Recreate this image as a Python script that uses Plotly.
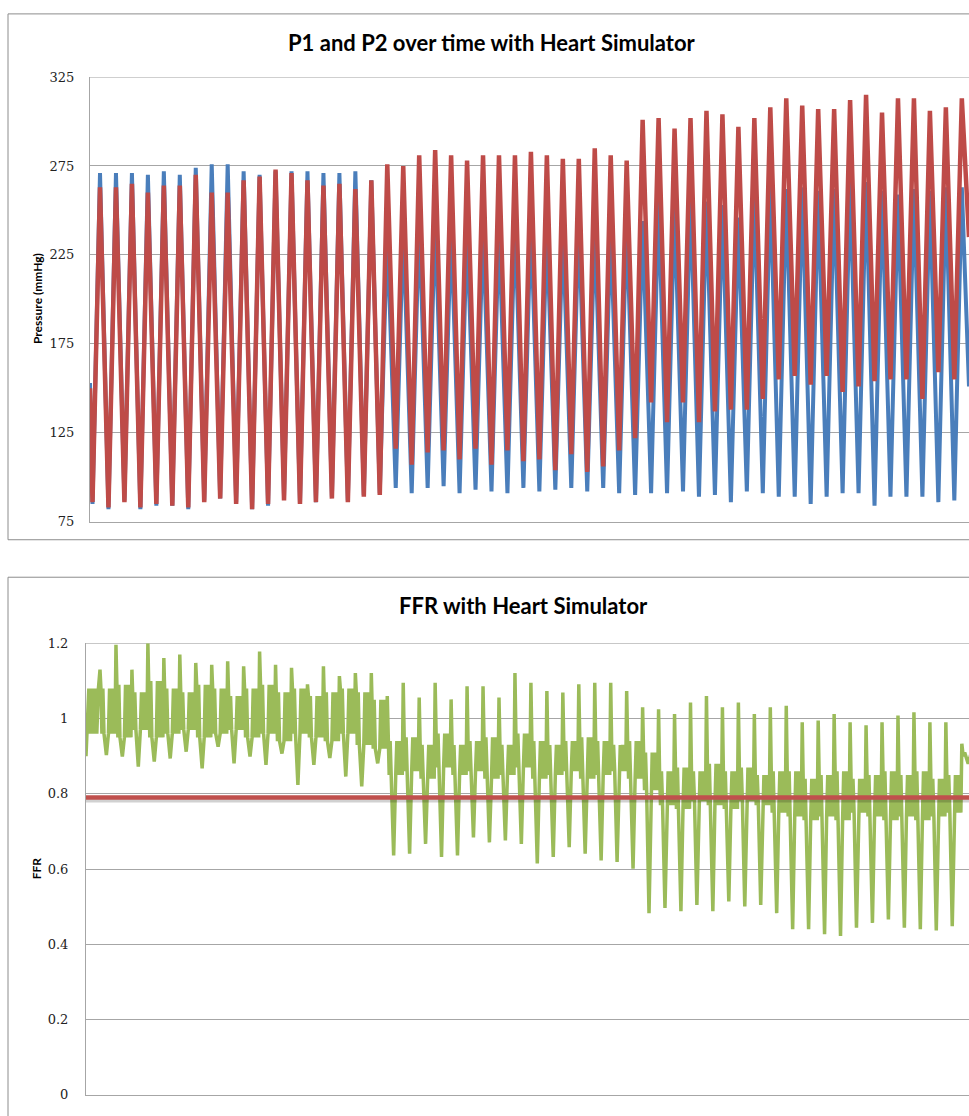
import plotly.graph_objects as go

# ---------------- data ----------------
# Pressure (mmHg): one entry per heartbeat (55 beats)
p1_peak = [271, 271, 271, 270, 272, 270, 274, 276, 276, 272, 270, 272, 272, 272,
           271, 271, 272, 267,
           239, 241, 245, 246, 241, 241, 241, 241, 245, 245, 241, 240, 245, 241, 240, 245,
           244, 255, 253, 259, 255, 253, 246, 261, 265, 262, 263, 261, 262, 266, 266, 261,
           259, 262, 261, 263, 263]
p2_peak = [263, 263, 265, 260, 264, 264, 270, 260, 260, 267, 269, 273, 271, 267,
           264, 265, 262, 267,
           276, 275, 281, 284, 281, 278, 281, 281, 281, 283, 281, 279, 279, 285, 281, 278,
           301, 302, 296, 302, 306, 304, 297, 302, 308, 313, 309, 307, 307, 312, 315, 305,
           313, 313, 306, 308, 313]
# trough just before each beat's peak
p1_trough = [85, 82, 87, 82, 84, 84, 82, 87, 88, 86, 82, 84, 89, 85, 86,
             89, 87, 90, 91,
             94, 91, 94, 95, 91, 93, 92, 91, 94, 92, 93, 94, 92, 94, 91, 90,
             91, 91, 92, 89, 90, 86, 92, 91, 89, 89, 85, 89, 91, 91, 84, 89, 89, 89, 86, 87]
p2_trough = [86, 83, 86, 83, 85, 84, 83, 86, 88, 85, 82, 85, 87, 85, 86,
             88, 86, 89, 90,
             116, 107, 114, 115, 110, 116, 107, 115, 109, 110, 104, 113, 103, 106, 115, 122,
             142, 131, 142, 131, 137, 138, 138, 144, 155, 157, 152, 157, 148, 151, 154, 155,
             155, 144, 159, 155]
p1_start, p1_end = 153, 151
p2_start, p2_end = 150, 235

# FFR: per beat spike high / spike low and the dense band edges
ffr_hi = [1.13, 1.196, 1.13, 1.2, 1.161, 1.17, 1.148, 1.143, 1.152, 1.139, 1.178, 1.143,
          1.135, 1.091, 1.139, 1.113, 1.121, 1.121,
          1.06, 1.095, 1.056, 1.095, 1.051, 1.086, 1.086, 1.056, 1.121, 1.095, 1.073, 1.069,
          1.091, 1.095, 1.095, 1.073, 1.03,
          1.025, 1.012, 1.043, 1.06, 1.03, 1.043, 1.012, 1.03, 1.034, 0.99, 0.995, 1.012,
          0.99, 0.982, 0.99, 1.008, 1.017, 0.99, 0.99, 0.933]
ffr_lo = [0.903, 0.899, 0.872, 0.886, 0.894, 0.912, 0.868, 0.925, 0.881, 0.899, 0.877, 0.907,
          0.824, 0.877, 0.895, 0.846, 0.82, 0.881,
          0.636, 0.641, 0.667, 0.632, 0.636, 0.684, 0.671, 0.676, 0.667, 0.615, 0.632, 0.658,
          0.641, 0.623, 0.619, 0.601, 0.483,
          0.497, 0.488, 0.505, 0.488, 0.514, 0.501, 0.505, 0.483, 0.44, 0.44, 0.427, 0.422,
          0.444, 0.457, 0.466, 0.444, 0.44, 0.437, 0.448, 0.88]
ffr_upper = [1.08, 1.09, 1.07, 1.10, 1.08, 1.07, 1.09, 1.08, 1.06, 1.08, 1.09, 1.07, 1.08,
             1.06, 1.07, 1.08, 1.07, 1.05,
             0.94, 0.95, 0.93, 0.96, 0.93, 0.94, 0.95, 0.93, 0.96, 0.94, 0.93, 0.94, 0.95, 0.94,
             0.93, 0.94, 0.91,
             0.86, 0.87, 0.86, 0.88, 0.86, 0.87, 0.85, 0.86, 0.86, 0.84, 0.85, 0.86, 0.84, 0.85,
             0.86, 0.85, 0.86, 0.84, 0.85, 0.91]
ffr_lower = [0.96, 0.95, 0.97, 0.95, 0.96, 0.97, 0.95, 0.96, 0.97, 0.95, 0.96, 0.94, 0.96,
             0.95, 0.94, 0.96, 0.93, 0.92,
             0.85, 0.86, 0.84, 0.87, 0.85, 0.86, 0.84, 0.85, 0.87, 0.84, 0.85, 0.86, 0.84, 0.85,
             0.86, 0.84, 0.81,
             0.77, 0.76, 0.78, 0.77, 0.76, 0.78, 0.77, 0.75, 0.74, 0.73, 0.74, 0.73, 0.75, 0.74,
             0.73, 0.74, 0.73, 0.74, 0.75, 0.9]
ffr_start = 0.90
ffr_threshold = 0.79

p_ticks = [75, 125, 175, 225, 275, 325]
ffr_ticks = [0, 0.2, 0.4, 0.6, 0.8, 1, 1.2]
ffr_ticklabels = ["0", "0.2", "0.4", "0.6", "0.8", "1", "1.2"]

# ---------------- build the traces ----------------
X0_TOP, X0_BOT, X1 = -0.627, -0.877, 54.45


def pressure_series(start, troughs, peaks, end):
    xs, ys = [X0_TOP], [start]
    for k, (t, p) in enumerate(zip(troughs, peaks)):
        xs += [k - 0.47, k]
        ys += [t, p]
    xs.append(X1)
    ys.append(end)
    return xs, ys


x1s, y1s = pressure_series(p1_start, p1_trough, p1_peak, p1_end)
x2s, y2s = pressure_series(p2_start, p2_trough, p2_peak, p2_end)

# drawing order of the read values within one beat
beat_pattern = [(0.0, "hi"), (0.06, "up"), (0.12, "low"), (0.18, "up"), (0.25, "low"),
                (0.4, "lo"), (0.53, "low"), (0.6, "up"), (0.67, "low"), (0.74, "up"),
                (0.81, "low"), (0.88, "up"), (0.94, "low")]
fx, fy = [X0_BOT, -0.7, -0.6, -0.5, -0.4, -0.3, -0.2, -0.1], \
         [ffr_start, ffr_upper[0], ffr_lower[0], ffr_upper[0], ffr_lower[0], ffr_upper[0],
          ffr_lower[0], ffr_upper[0]]
for k in range(len(ffr_hi)):
    vals = {"hi": ffr_hi[k], "lo": ffr_lo[k], "up": ffr_upper[k], "low": ffr_lower[k]}
    for off, key in beat_pattern:
        fx.append(k + off)
        fy.append(vals[key])

BLUE = "#4A7EBB"
RED = "#BE4B48"
GREEN = "#9BBB59"
GRID = "#A6A6A6"

fig = go.Figure()
fig.add_trace(go.Scatter(x=x1s, y=y1s, mode="lines", name="P1",
                         line=dict(color=BLUE, width=4), xaxis="x", yaxis="y"))
fig.add_trace(go.Scatter(x=x2s, y=y2s, mode="lines", name="P2",
                         line=dict(color=RED, width=4.5), xaxis="x", yaxis="y"))
fig.add_trace(go.Scatter(x=fx, y=fy, mode="lines", name="FFR",
                         line=dict(color=GREEN, width=3.5), xaxis="x2", yaxis="y2"))
# threshold line with a soft shadow
fig.add_trace(go.Scatter(x=[X0_BOT, X1], y=[ffr_threshold - 0.005, ffr_threshold - 0.005],
                         mode="lines", line=dict(color="rgba(0,0,0,0.18)", width=6),
                         xaxis="x2", yaxis="y2", hoverinfo="skip"))
fig.add_trace(go.Scatter(x=[X0_BOT, X1], y=[ffr_threshold, ffr_threshold],
                         mode="lines", name="threshold", line=dict(color="#C0504D", width=4.5),
                         xaxis="x2", yaxis="y2"))

W, H = 969, 1116
tickfont = dict(family="DejaVu Serif", size=13, color="#222")

fig.update_layout(
    width=W, height=H, margin=dict(l=0, r=0, t=0, b=0),
    paper_bgcolor="white", plot_bgcolor="white", showlegend=False,
    xaxis=dict(domain=[90 / W, 1], range=[X0_TOP, X1], showgrid=False, zeroline=False,
               showticklabels=False, showline=True, linecolor=GRID, linewidth=1,
               anchor="y"),
    yaxis=dict(domain=[1 - 521.7 / H, 1 - 71 / H], range=[75, 325], tickvals=p_ticks,
               showgrid=True, gridcolor=GRID, gridwidth=1, zeroline=False,
               showline=True, linecolor=GRID, linewidth=1, tickfont=tickfont,
               ticklabelstandoff=12, anchor="x"),
    xaxis2=dict(domain=[86 / W, 1], range=[X0_BOT, X1], showgrid=False, zeroline=False,
                showticklabels=False, showline=True, linecolor=GRID, linewidth=1,
                anchor="y2"),
    yaxis2=dict(domain=[1 - 1102.7 / H, 1 - 645 / H], range=[0, 1.2], tickvals=ffr_ticks,
                ticktext=ffr_ticklabels, showgrid=True, gridcolor=GRID, gridwidth=1,
                zeroline=False, showline=True, linecolor=GRID, linewidth=1,
                tickfont=tickfont, ticklabelstandoff=14, anchor="x2"),
)

# top gridlines at the range maximum
fig.add_shape(type="line", xref="x domain", yref="y", x0=0, x1=1, y0=325, y1=325,
              line=dict(color=GRID, width=1), layer="below")
fig.add_shape(type="line", xref="x2 domain", yref="y2", x0=0, x1=1, y0=1.2, y1=1.2,
              line=dict(color=GRID, width=1), layer="below")

title_font = dict(family="Lato", size=22, color="#000")
axis_title_font = dict(family="Lato", size=12, color="#000")
fig.add_annotation(text="<b>P1 and P2 over time with Heart Simulator</b>", xref="paper",
                   yref="paper", x=492.5 / W, y=1 - 36 / H, showarrow=False,
                   xanchor="center", yanchor="middle", font=title_font)
fig.add_annotation(text="<b>FFR with Heart Simulator</b>", xref="paper", yref="paper",
                   x=523.5 / W, y=1 - 607 / H, showarrow=False, xanchor="center",
                   yanchor="middle", font=title_font)
fig.add_annotation(text="<b>Pressure (mmHg)</b>", xref="paper", yref="paper",
                   x=37 / W, y=1 - 296 / H, showarrow=False, textangle=-90,
                   xanchor="center", yanchor="middle", font=axis_title_font)
fig.add_annotation(text="<b>FFR</b>", xref="paper", yref="paper",
                   x=36 / W, y=1 - 873 / H, showarrow=False, textangle=-90,
                   xanchor="center", yanchor="middle", font=axis_title_font)

# chart-area borders (right edge runs off the picture)
fig.add_shape(type="rect", xref="paper", yref="paper", x0=8 / W, x1=1.02,
              y0=1 - 540 / H, y1=1 - 7 / H, line=dict(color="#8C8C8C", width=1))
fig.add_shape(type="rect", xref="paper", yref="paper", x0=8 / W, x1=1.02,
              y0=-0.02, y1=1 - 578 / H, line=dict(color="#8C8C8C", width=1))

fig.write_html(
    "out.html",
    config={"displayModeBar": False},
    post_script=(
        "document.documentElement.style.margin='0';"
        "document.documentElement.style.padding='0';"
        "document.documentElement.style.overflow='hidden';"
        "document.body.style.margin='0';document.body.style.padding='0';"
        "document.body.style.overflow='hidden';"
        "var gd=document.getElementById('{plot_id}');"
        "gd.style.position='fixed';gd.style.left='0px';gd.style.top='0px';"
    ),
)
